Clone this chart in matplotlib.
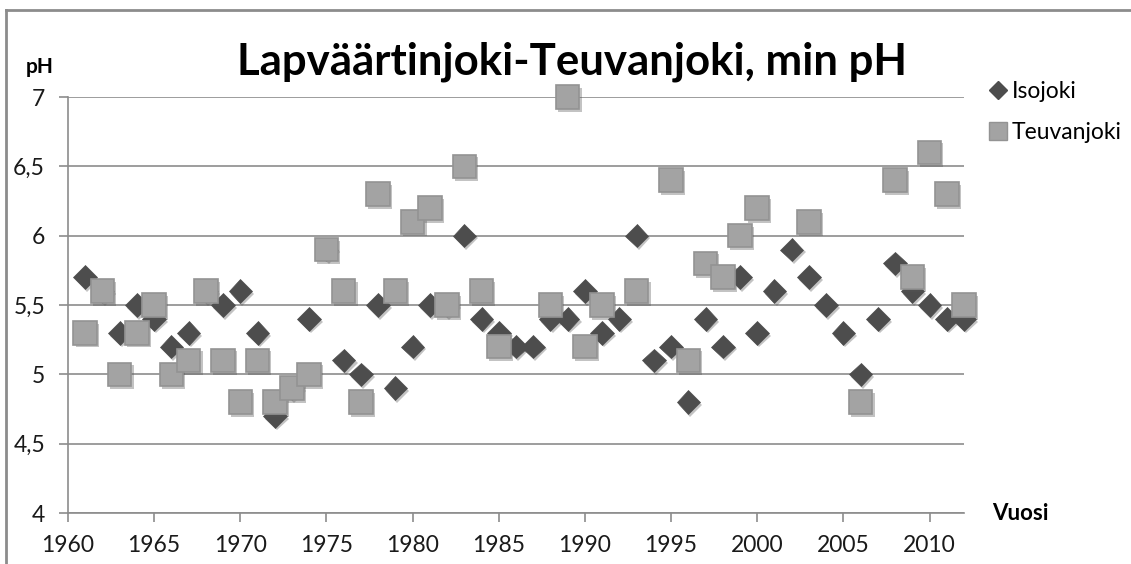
import matplotlib
matplotlib.use("Agg")
import matplotlib.pyplot as plt
import matplotlib.patheffects as pe
from matplotlib.lines import Line2D

# Isojoki (diamonds) - a few points sit hidden behind the squares
iso_years = [1961, 1962, 1963, 1964, 1965, 1966, 1967, 1968, 1969, 1970,
             1971, 1972, 1973, 1974, 1975, 1976, 1977, 1978, 1979, 1980,
             1981, 1982, 1983, 1984, 1985, 1986, 1987, 1988, 1989, 1990,
             1991, 1992, 1993, 1994, 1995, 1996, 1997, 1998, 1999, 2000,
             2001, 2002, 2003, 2004, 2005, 2006, 2007, 2008, 2009, 2010,
             2011, 2012]
iso_ph = [5.7, 5.6, 5.3, 5.5, 5.4, 5.2, 5.3, 5.6, 5.5, 5.6,
          5.3, 4.7, 4.9, 5.4, 5.9, 5.1, 5.0, 5.5, 4.9, 5.2,
          5.5, 5.5, 6.0, 5.4, 5.3, 5.2, 5.2, 5.4, 5.4, 5.6,
          5.3, 5.4, 6.0, 5.1, 5.2, 4.8, 5.4, 5.2, 5.7, 5.3,
          5.6, 5.9, 5.7, 5.5, 5.3, 5.0, 5.4, 5.8, 5.6, 5.5,
          5.4, 5.4]

# Teuvanjoki (squares)
teu_years = [1961, 1962, 1963, 1964, 1965, 1966, 1967, 1968, 1969, 1970,
             1971, 1972, 1973, 1974, 1975, 1976, 1977, 1978, 1979, 1980,
             1981, 1982, 1983, 1984, 1985, 1988, 1989, 1990, 1991, 1993,
             1995, 1996, 1997, 1998, 1999, 2000, 2003, 2006, 2008, 2009,
             2010, 2011, 2012]
teu_ph = [5.3, 5.6, 5.0, 5.3, 5.5, 5.0, 5.1, 5.6, 5.1, 4.8,
          5.1, 4.8, 4.9, 5.0, 5.9, 5.6, 4.8, 6.3, 5.6, 6.1,
          6.2, 5.5, 6.5, 5.6, 5.2, 5.5, 7.0, 5.2, 5.5, 5.6,
          6.4, 5.1, 5.8, 5.7, 6.0, 6.2, 6.1, 4.8, 6.4, 5.7,
          6.6, 6.3, 5.5]

x_ticks = [1960, 1965, 1970, 1975, 1980, 1985, 1990, 1995, 2000, 2005, 2010]
y_ticks = [4, 4.5, 5, 5.5, 6, 6.5, 7]
y_labels = ['4', '4,5', '5', '5,5', '6', '6,5', '7']

plt.rcParams['font.family'] = ['Lato', 'DejaVu Sans']

W, H = 1131, 564
fig = plt.figure(figsize=(W / 100, H / 100), dpi=100)
ax = fig.add_axes([68 / W, 1 - 513 / H, (964 - 68) / W, (513 - 97) / H])

grid_c = '#8c8c8c'
shadow = [pe.SimplePatchShadow(offset=(1.5, -2), shadow_rgbFace='#555555', alpha=0.35), pe.Normal()]

ax.plot(iso_years, iso_ph, linestyle='none', marker='D', markersize=12,
        markerfacecolor='#4d4d4d', markeredgecolor='#4d4d4d', markeredgewidth=0.5,
        path_effects=shadow, zorder=3, clip_on=False)
ax.plot(teu_years, teu_ph, linestyle='none', marker='s', markersize=17,
        markerfacecolor='#a3a3a3', markeredgecolor='#939393', markeredgewidth=1.2,
        path_effects=shadow, zorder=4, clip_on=False)

ax.set_xlim(1960, 2012)
ax.set_ylim(4, 7)
ax.set_xticks(x_ticks)
ax.set_yticks(y_ticks)
ax.set_yticklabels(y_labels)
ax.grid(axis='y', color=grid_c, linewidth=1.2)
ax.set_axisbelow(True)
for s in ['top', 'right']:
    ax.spines[s].set_visible(False)
ax.spines['left'].set_color(grid_c)
ax.spines['bottom'].set_color(grid_c)
ax.spines['left'].set_linewidth(1.2)
ax.spines['bottom'].set_linewidth(1.2)
ax.tick_params(axis='both', colors=grid_c, labelcolor='#1a1a1a', labelsize=16.5,
               length=6.5, width=1.2)
ax.tick_params(axis='x', pad=9)
ax.tick_params(axis='y', pad=10)

fig.text(572 / W, 1 - 62 / H, 'Lapväärtinjoki-Teuvanjoki, min pH', ha='center', va='center',
         fontsize=31.5, fontweight='bold', color='black')
fig.text(40 / W, 1 - 67 / H, 'pH', ha='center', va='center', fontsize=15, fontweight='bold')
fig.text(992 / W, 1 - 513 / H, 'Vuosi', ha='left', va='center', fontsize=16, fontweight='bold')

handles = [
    Line2D([], [], linestyle='none', marker='D', markersize=9, markerfacecolor='#4d4d4d',
           markeredgecolor='#4d4d4d'),
    Line2D([], [], linestyle='none', marker='s', markersize=13, markerfacecolor='#a3a3a3',
           markeredgecolor='#939393'),
]
fig.legend(handles, ['Isojoki', 'Teuvanjoki'], loc='upper left',
           bbox_to_anchor=(980 / W, 1 - 72 / H), frameon=False, fontsize=16.5,
           handlelength=0.8, handletextpad=0.2, labelspacing=0.85, borderaxespad=0)

# chart border (only the left and top edges show)
border = dict(color='#8c8c8c', linewidth=2, transform=fig.transFigure)
fig.add_artist(Line2D([6 / W, 6 / W], [0, 1 - 10 / H], **border))
fig.add_artist(Line2D([6 / W, 1], [1 - 10 / H, 1 - 10 / H], **border))

fig.savefig('out.png', dpi=100)
